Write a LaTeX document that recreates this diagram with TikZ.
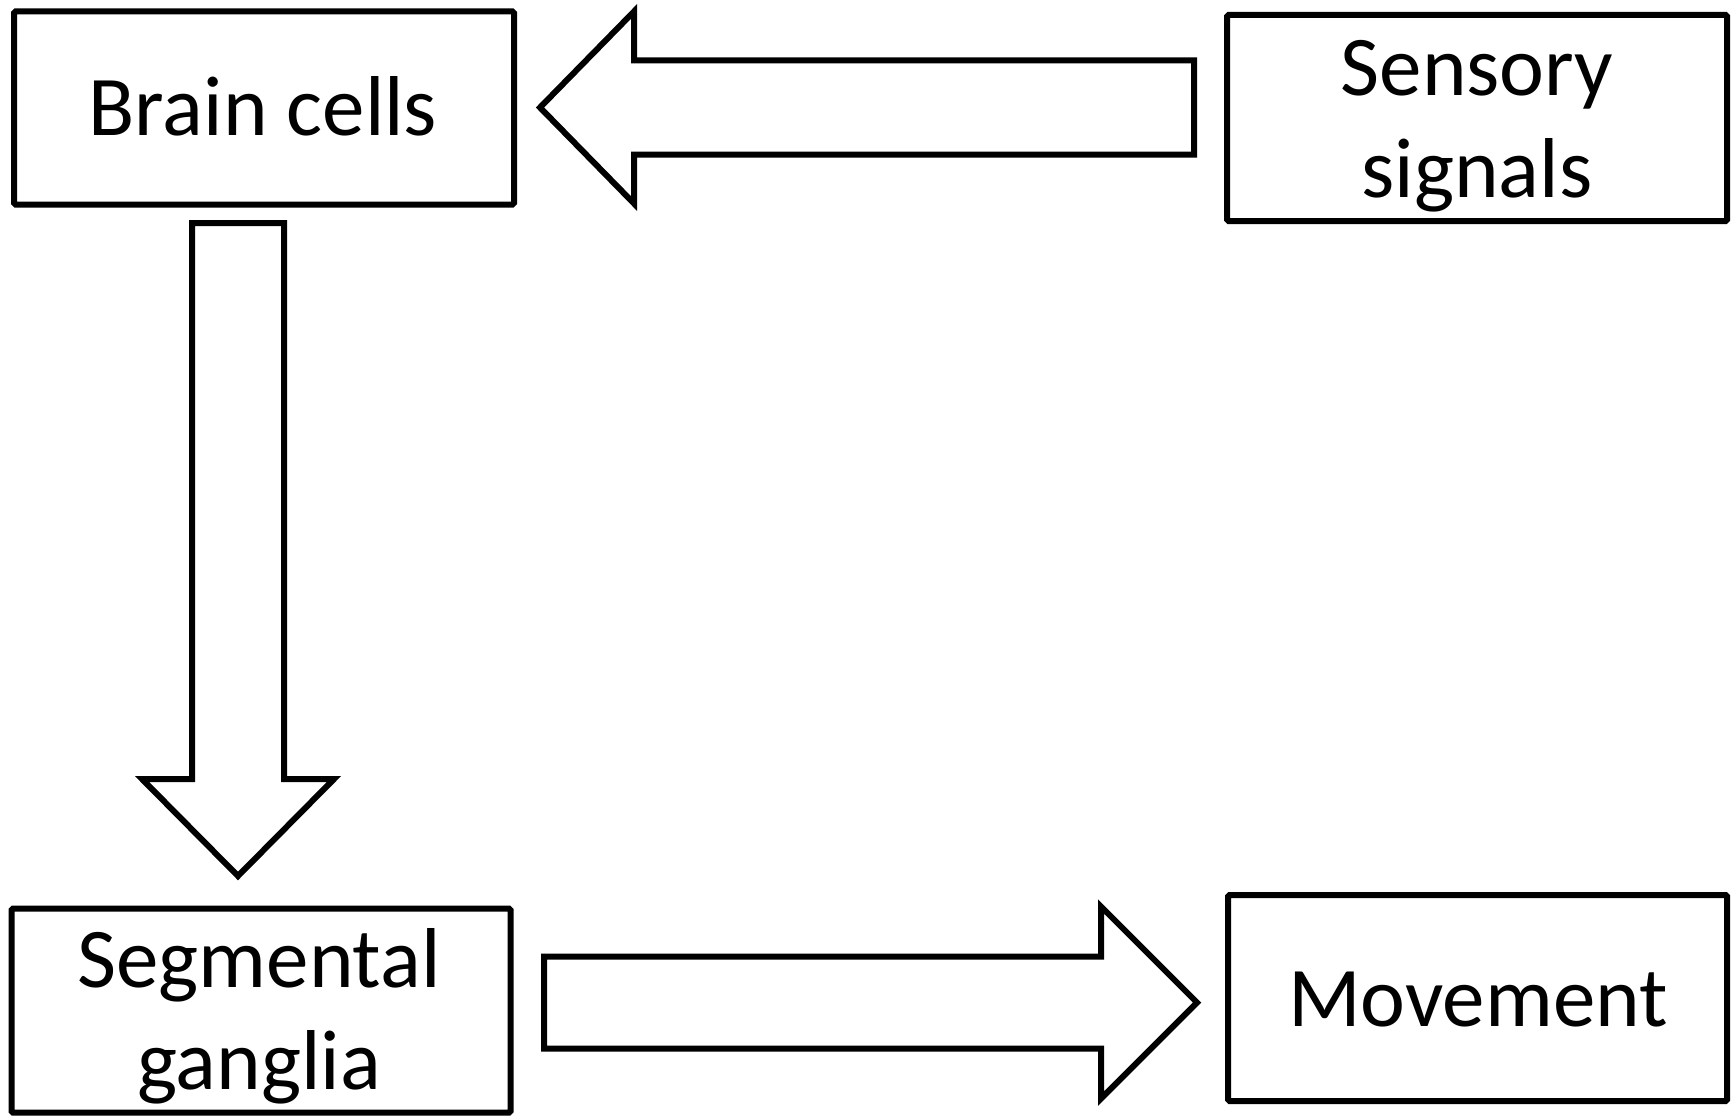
\documentclass[tikz,border=0pt]{standalone}
\usepackage{fontspec}
\setmainfont{Carlito}
\begin{document}
\begin{tikzpicture}[x=1pt,y=-1pt,
  box/.style={draw=black, line width=6pt, rounded corners=1.5pt, inner sep=0pt},
  lbl/.style={font=\fontsize{85}{102}\selectfont, inner sep=0pt, anchor=base, align=center},
  blockarrow/.style={draw=black, fill=white, line width=6pt, line join=miter}]
\useasboundingbox (0,0) rectangle (1733,1116);

% the four boxes
\node[box, minimum width=500pt, minimum height=193pt] (brain) at (264,108) {};
\node[box, minimum width=500pt, minimum height=206pt] (sensory) at (1477,118) {};
\node[box, minimum width=499pt, minimum height=204pt] (segmental) at (261,1010.5) {};
\node[box, minimum width=499pt, minimum height=206pt] (movement) at (1477.5,998) {};

% labels (base anchor sits on the last line)
\node[lbl] (brainlbl) at (263,135) {Brain cells};
\node[lbl] (sensorylbl) at (1477,197) {Sensory\\signals};
\node[lbl] (segmentallbl) at (259,1089) {Segmental\\ganglia};
\node[lbl] (movementlbl) at (1478,1026) {Movement};

% block arrow: sensory signals -> brain cells
\draw[blockarrow] (1194,60.5) -- (634,60.5) -- (634,11.5) -- (540,107.5)
  -- (634,203.5) -- (634,154.5) -- (1194,154.5) -- cycle;

% block arrow: brain cells -> segmental ganglia
\draw[blockarrow] (192,223) -- (192,779) -- (142,779) -- (238,876)
  -- (334,779) -- (284,779) -- (284,223) -- cycle;

% block arrow: segmental ganglia -> movement
\draw[blockarrow] (544,956.5) -- (1101,956.5) -- (1101,906.5) -- (1197,1002.5)
  -- (1101,1098.5) -- (1101,1048.5) -- (544,1048.5) -- cycle;
\end{tikzpicture}
\end{document}
